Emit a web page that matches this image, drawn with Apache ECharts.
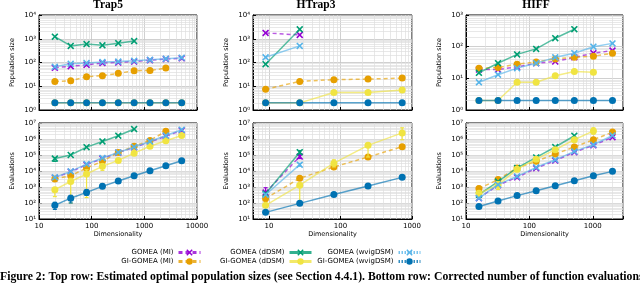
<!DOCTYPE html>
<html><head><meta charset="utf-8">
<script src="https://cdn.jsdelivr.net/npm/echarts@6/dist/echarts.min.js"></script>
<style>html,body{margin:0;padding:0;background:#fff}#c{width:640px;height:284px}</style>
</head><body><div id="c"></div>
<script>
// ---------- DATA ----------
const seriesNames = ['GOMEA (MI)','GI-GOMEA (MI)','GOMEA (dDSM)','GI-GOMEA (dDSM)','GOMEA (wvigDSM)','GI-GOMEA (wvigDSM)'];
const panelTitles = ['Trap5','HTrap3','HIFF'];
const yNames = ['Population size','Evaluations'];
const xName = 'Dimensionality';

// Trap5
const trapX = [20, 40, 80, 160, 320, 640, 1280, 2560, 5120];
const trapPopGomeaMI   = [60, 70, 80, 95, 100, 110, 125, 140, 150];
const trapPopGiMI      = [16, 17, 25, 28, 35, 45, 46, 58];
const trapPopGomeaDDSM = [1220, 500, 600, 530, 650, 800];
const trapPopGiDDSM    = [2, 2, 2, 2, 2, 2, 2, 2, 2];
const trapPopGomeaWvig = [66, 88, 95, 105, 110, 118, 130, 145, 160];
const trapPopGiWvig    = [2, 2, 2, 2, 2, 2, 2, 2, 2];
const trapEvGomeaMI    = [3800, 9000, 25000, 60000, 140000, 300000, 650000, 1500000, 3400000];
const trapEvGiMI       = [3200, 5000, 15500, 40000, 145000, 350000, 820000, 3000000];
const trapEvGomeaDDSM  = [60000, 100000, 310000, 700000, 1600000, 4200000];
const trapEvGiDDSM     = [680, 2200, 6500, 19500, 46000, 130000, 350000, 770000, 1650000];
const trapEvGomeaWvig  = [4000, 9500, 27000, 65000, 145000, 320000, 700000, 1650000, 3800000];
const trapEvGiWvig     = [72, 200, 460, 1100, 2400, 5000, 10400, 21500, 44000];
// error bars [x, low, high]
const trapErrGomeaDDSM = [[20, 40000, 70000]];
const trapErrGiDDSM    = [[20, 250, 900], [40, 100, 3500], [80, 220, 12000], [160, 11000, 26000]];
const trapErrGiWvig    = [[20, 40, 110], [40, 100, 300], [80, 300, 700], [160, 800, 1500]];
const trapErrGiMI      = [[2560, 2000000, 4000000]];

// HTrap3
const htX = [9, 27, 81, 243, 729];
const htPopGomeaMI   = [1750, 1450];
const htPopGiMI      = [7.5, 16, 19, 20, 22];
const htPopGomeaDDSM = [85, 2500];
const htPopGiDDSM    = [2, 2, 5.5, 5.5, 7];
const htPopGomeaWvig = [165, 500];
const htPopGiWvig    = [2, 2, 2, 2, 2];
const htEvGomeaMI    = [450, 80000];
const htEvGiMI       = [190, 3500, 18000, 75000, 330000];
const htEvGomeaDDSM  = [380, 150000];
const htEvGiDDSM     = [72, 1300, 31000, 400000, 2400000];
const htEvGomeaWvig  = [330, 25000];
const htEvGiWvig     = [26, 95, 340, 1150, 4000];
const htErrGomeaMI   = [[9, 200, 900], [27, 60000, 110000]];
const htErrGomeaDDSM = [[27, 120000, 190000]];
const htErrGomeaWvig = [[27, 20000, 30000]];
const htErrGiMI      = [[9, 130, 300]];
const htErrGiDDSM    = [[27, 100, 1600], [81, 18000, 50000], [243, 75000, 450000], [729, 900000, 5000000]];

// HIFF
const hiffX = [16, 32, 64, 128, 256, 512, 1024, 2048];
const hiffPopGomeaMI   = [19, 19, 23, 30, 34, 46, 62, 75];
const hiffPopGiMI      = [21, 22, 28, 33, 41, 46, 50, 62];
const hiffPopGomeaDDSM = [15, 30, 57, 85, 185, 355];
const hiffPopGiDDSM    = [2, 2, 7.5, 7.5, 12, 16.5, 15.5];
const hiffPopGomeaWvig = [7.5, 13, 21, 30, 46, 62, 100, 127];
const hiffPopGiWvig    = [2, 2, 2, 2, 2, 2, 2, 2];
const hiffEvGomeaMI    = [200, 1300, 4000, 15000, 45000, 150000, 400000, 1300000];
const hiffEvGiMI       = [800, 2900, 15500, 40000, 115000, 316000, 900000, 2700000];
const hiffEvGomeaDDSM  = [330, 2200, 15500, 71000, 316000, 1600000];
const hiffEvGiDDSM     = [400, 1300, 13000, 55000, 215000, 900000, 3200000];
const hiffEvGomeaWvig  = [205, 1400, 4600, 17000, 50000, 168000, 440000, 1660000];
const hiffEvGiWvig     = [60, 135, 290, 590, 1200, 2460, 5000, 9500];
const hiffErrGiDDSM    = [[16, 250, 500], [32, 700, 2200], [64, 9000, 18000], [1024, 2000000, 5000000]];
const hiffErrGiMI      = [[16, 600, 1100]];

// ---------- STYLE ----------
const XPATH = 'path://M0,1.6L1.6,0L5,3.4L8.4,0L10,1.6L6.6,5L10,8.4L8.4,10L5,6.6L1.6,10L0,8.4L3.4,5Z';
const meta = [
  {color:'#9400d3', symbol:XPATH, type:[4,3]},
  {color:'#e69f00', symbol:'circle', type:[4,3]},
  {color:'#009e73', symbol:XPATH, type:'solid'},
  {color:'#f0e442', symbol:'circle', type:'solid'},
  {color:'#56b4e9', symbol:XPATH, type:'solid'},
  {color:'#0072b2', symbol:'circle', type:'solid'}
];
const panels = [
  {x:trapX, xMin:10, xMax:10000, popMax:1e4, left:39, width:158,
   pop:[trapPopGomeaMI,trapPopGiMI,trapPopGomeaDDSM,trapPopGiDDSM,trapPopGomeaWvig,trapPopGiWvig],
   ev:[trapEvGomeaMI,trapEvGiMI,trapEvGomeaDDSM,trapEvGiDDSM,trapEvGomeaWvig,trapEvGiWvig],
   err:[null,trapErrGiMI,trapErrGomeaDDSM,trapErrGiDDSM,null,trapErrGiWvig], tx:108},
  {x:htX, xMin:6, xMax:1000, popMax:1e4, left:253, width:159,
   pop:[htPopGomeaMI,htPopGiMI,htPopGomeaDDSM,htPopGiDDSM,htPopGomeaWvig,htPopGiWvig],
   ev:[htEvGomeaMI,htEvGiMI,htEvGomeaDDSM,htEvGiDDSM,htEvGomeaWvig,htEvGiWvig],
   err:[htErrGomeaMI,htErrGiMI,htErrGomeaDDSM,htErrGiDDSM,htErrGomeaWvig,null], tx:316},
  {x:hiffX, xMin:10, xMax:3000, popMax:1e3, left:466, width:157,
   pop:[hiffPopGomeaMI,hiffPopGiMI,hiffPopGomeaDDSM,hiffPopGiDDSM,hiffPopGomeaWvig,hiffPopGiWvig],
   ev:[hiffEvGomeaMI,hiffEvGiMI,hiffEvGomeaDDSM,hiffEvGiDDSM,hiffEvGomeaWvig,hiffEvGiWvig],
   err:[null,hiffErrGiMI,null,hiffErrGiDDSM,null,null], tx:536}
];

const SUP = ['⁰','¹','²','³','⁴','⁵','⁶','⁷','⁸','⁹'];
const isPow = v => Math.abs(Math.log10(v) - Math.round(Math.log10(v))) < 1e-6;
const FONT = 'DejaVu Sans';

function minors(min, max){
  const out = [];
  for (let d = Math.floor(Math.log10(min)) - 1; d <= Math.ceil(Math.log10(max)); d++){
    for (let k = 2; k <= 9; k++){ const v = k * Math.pow(10, d); if (v > min*1.0001 && v < max*0.9999) out.push(v); }
  }
  return out;
}

const grids = [], xAxes = [], yAxes = [], series = [];
panels.forEach((p, pi) => {
  [0, 1].forEach(row => {
    const gi = grids.length;
    grids.push({left:p.left, width:p.width, top: row === 0 ? 15 : 123, height: row === 0 ? 95 : 96,
      show:true, borderColor:'#000', borderWidth:1, containLabel:false});
    const yMin = row === 0 ? 1 : 10, yMax = row === 0 ? p.popMax : 1e7;
    xAxes.push({type:'log', gridIndex:gi, min:p.xMin, max:p.xMax, logBase:10,
      axisLine:{show:true, lineStyle:{color:'#000', width:1}},
      axisTick:{show:true, inside:true, length:3, lineStyle:{color:'#000'}},
      axisLabel:{show: row === 1, fontFamily:FONT, fontSize:7, color:'#000', margin:4,
        formatter: v => isPow(v) ? String(Math.round(v)) : ''},
      splitLine:{show:true, lineStyle:{color:'#c4c4c4', width:0.8}},
      name: row === 1 ? xName : '', nameLocation:'middle', nameGap:10,
      nameTextStyle:{fontFamily:FONT, fontSize:6.5, color:'#000'}
    });
    yAxes.push({type:'log', gridIndex:gi, min:yMin, max:yMax, logBase:10,
      axisLine:{show:true, lineStyle:{color:'#000', width:1}},
      axisTick:{show:true, inside:true, length:3, lineStyle:{color:'#000'}},
      axisLabel:{fontFamily:FONT, fontSize:7, color:'#000', margin:3,
        formatter: v => isPow(v) ? '10' + SUP[Math.round(Math.log10(v))] : ''},
      splitLine:{show:true, lineStyle:{color:'#c4c4c4', width:0.8}},
      name: yNames[row], nameLocation:'middle', nameGap:23,
      nameTextStyle:{fontFamily:FONT, fontSize:6.5, color:'#000'}
    });
    // minor grid lines
    series.push({type:'line', data:[], xAxisIndex:gi, yAxisIndex:gi, silent:true, z:1,
      markLine:{silent:true, z:1, animation:false, symbol:['none','none'], label:{show:false},
        lineStyle:{color:'#dedede', width:0.7, type:'solid'},
        emphasis:{disabled:true},
        data: minors(p.xMin, p.xMax).map(v => ({xAxis:v})).concat(minors(yMin, yMax).map(v => ({yAxis:v})))}});
    const vals = row === 0 ? p.pop : p.ev;
    vals.forEach((arr, si) => {
      const m = meta[si];
      series.push({type:'line', name:seriesNames[si], xAxisIndex:gi, yAxisIndex:gi, z:3 + si,
        data: arr.map((v, i) => [p.x[i], v]),
        symbol:m.symbol, symbolSize:7, showAllSymbol:true, clip:true,
        itemStyle:{color:m.color, opacity:1},
        lineStyle:{color:m.color, width:1.5, opacity:0.65, type:m.type},
        emphasis:{disabled:true}});
      if (row === 1 && p.err[si]){
        const col = m.color;
        series.push({type:'custom', xAxisIndex:gi, yAxisIndex:gi, z:3 + si, silent:true, clip:true,
          data:p.err[si], encode:{x:0, y:[1,2]},
          renderItem:(params, api) => {
            const a = api.coord([api.value(0), api.value(1)]);
            const b = api.coord([api.value(0), api.value(2)]);
            const w = 2, st = {stroke:col, lineWidth:1.2};
            return {type:'group', children:[
              {type:'line', shape:{x1:a[0], y1:a[1], x2:b[0], y2:b[1]}, style:st},
              {type:'line', shape:{x1:a[0]-w, y1:a[1], x2:a[0]+w, y2:a[1]}, style:st},
              {type:'line', shape:{x1:b[0]-w, y1:b[1], x2:b[0]+w, y2:b[1]}, style:st}]};
          }});
      }
    });
  });
});

const legendBase = {orient:'horizontal', align:'right', padding:0, itemWidth:22, itemHeight:8, itemGap:0,
  selectedMode:false, textStyle:{fontFamily:FONT, fontSize:7, color:'#000', padding:[0,0,0,0]}};
const legendPos = [[438,249],[438,258],[327,249],[327,258],[218,249],[218,258]];
const legends = seriesNames.map((n, i) => Object.assign({}, legendBase, {
  data:[n], right:legendPos[i][0], top:legendPos[i][1],
  lineStyle:{width:3, opacity:0.8, type: i >= 4 ? [1.5,1.5] : 'inherit'}
}));

const graphic = panelTitles.map((t, i) => ({type:'text', x:panels[i].tx, y:5,
  style:{text:t, fontFamily:'Liberation Serif', fontWeight:'bold', fontSize:11.5, fill:'#000', align:'center', verticalAlign:'middle'}}));
graphic.push({type:'text', x:0, y:277, style:{text:'Figure 2: Top row: Estimated optimal population sizes (see Section 4.4.1). Bottom row: Corrected number of function evaluations',
  fontFamily:'Liberation Serif', fontWeight:'bold', fontSize:11.7, fill:'#000', align:'left', verticalAlign:'middle'}});

const chart = echarts.init(document.getElementById('c'), null, {renderer:'canvas'});
chart.setOption({animation:false, backgroundColor:'#fff', grid:grids, xAxis:xAxes, yAxis:yAxes,
  series:series, legend:legends, graphic:graphic});
</script></body></html>
